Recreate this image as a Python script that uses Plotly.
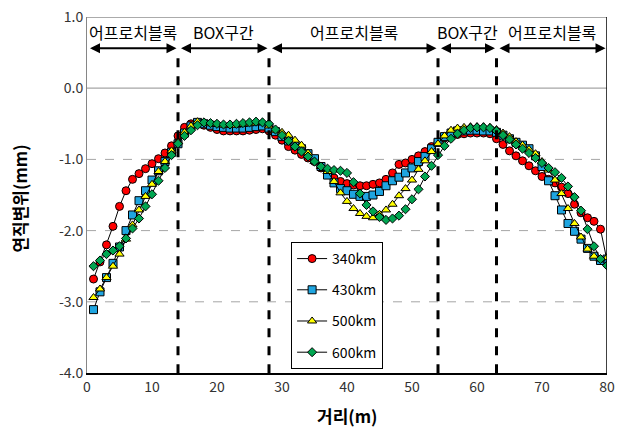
import plotly.graph_objects as go

distance = list(range(1, 81))

s340 = [-2.68, -2.44, -2.20, -1.94, -1.66, -1.44, -1.28, -1.20, -1.13, -1.06,
        -0.99, -0.91, -0.81, -0.67, -0.55, -0.50, -0.49, -0.52, -0.55, -0.58,
        -0.60, -0.60, -0.60, -0.60, -0.59, -0.58, -0.57, -0.60, -0.66, -0.73,
        -0.82, -0.87, -0.93, -0.98, -1.03, -1.12, -1.20, -1.26, -1.31, -1.34,
        -1.36, -1.37, -1.37, -1.35, -1.33, -1.28, -1.19, -1.07, -1.05, -1.00,
        -0.95, -0.89, -0.82, -0.76, -0.70, -0.67, -0.65, -0.64, -0.63, -0.63,
        -0.63, -0.64, -0.71, -0.79, -0.88, -0.95, -1.02, -1.09, -1.16, -1.24,
        -1.28, -1.33, -1.39, -1.48, -1.63, -1.75, -1.82, -1.87, -1.98, -2.42]

s430 = [-3.11, -2.86, -2.66, -2.46, -2.23, -2.00, -1.78, -1.58, -1.44, -1.29,
        -1.16, -1.03, -0.90, -0.78, -0.63, -0.53, -0.48, -0.50, -0.52, -0.54,
        -0.55, -0.56, -0.56, -0.56, -0.55, -0.54, -0.53, -0.56, -0.61, -0.68,
        -0.74, -0.80, -0.85, -0.92, -0.99, -1.10, -1.22, -1.33, -1.41, -1.44,
        -1.49, -1.52, -1.52, -1.50, -1.45, -1.37, -1.30, -1.25, -1.19, -1.12,
        -1.03, -0.96, -0.85, -0.76, -0.68, -0.63, -0.60, -0.60, -0.59, -0.59,
        -0.60, -0.60, -0.62, -0.66, -0.71, -0.76, -0.80, -0.85, -0.95, -1.10,
        -1.30, -1.51, -1.71, -1.90, -2.01, -2.12, -2.25, -2.36, -2.42, -2.40]

s500 = [-2.94, -2.82, -2.66, -2.50, -2.33, -2.12, -1.92, -1.71, -1.52, -1.35,
        -1.17, -1.03, -0.88, -0.75, -0.62, -0.53, -0.47, -0.48, -0.50, -0.51,
        -0.52, -0.52, -0.52, -0.51, -0.50, -0.49, -0.48, -0.53, -0.59, -0.62,
        -0.66, -0.73, -0.80, -0.91, -1.03, -1.10, -1.17, -1.31, -1.47, -1.59,
        -1.69, -1.76, -1.80, -1.82, -1.77, -1.71, -1.63, -1.51, -1.41, -1.29,
        -1.14, -1.02, -0.89, -0.78, -0.67, -0.59, -0.56, -0.55, -0.54, -0.54,
        -0.54, -0.55, -0.58, -0.63, -0.68, -0.75, -0.80, -0.86, -0.92, -1.03,
        -1.15, -1.29, -1.48, -1.69, -1.90, -2.09, -2.26, -2.36, -2.40, -2.38]

s600 = [-2.50, -2.42, -2.33, -2.28, -2.22, -2.11, -1.97, -1.83, -1.66, -1.49,
        -1.30, -1.12, -0.94, -0.78, -0.67, -0.59, -0.52, -0.48, -0.49, -0.50,
        -0.51, -0.51, -0.50, -0.49, -0.48, -0.47, -0.48, -0.50, -0.58, -0.66,
        -0.74, -0.82, -0.89, -0.96, -1.03, -1.10, -1.13, -1.15, -1.16, -1.19,
        -1.32, -1.48, -1.64, -1.73, -1.81, -1.85, -1.83, -1.79, -1.70, -1.56,
        -1.42, -1.24, -1.09, -0.94, -0.81, -0.71, -0.64, -0.59, -0.56, -0.55,
        -0.55, -0.56, -0.60, -0.66, -0.72, -0.79, -0.85, -0.91, -0.98, -1.05,
        -1.12, -1.18, -1.26, -1.38, -1.53, -1.72, -1.98, -2.22, -2.40, -2.49]

series_names = ["340km", "430km", "500km", "600km"]
series_values = [s340, s430, s500, s600]
marker_symbols = ["circle", "square", "triangle-up", "diamond"]
marker_colors = ["#ff0000", "#1fa5e0", "#ffff00", "#00a651"]
marker_sizes = [8, 8, 8, 7]

section_bounds = [0, 14, 28, 54, 63, 80]
section_labels = ["어프로치블록", "BOX구간", "어프로치블록", "BOX구간", "어프로치블록"]
divider_x = [14, 28, 54, 63]

y_ticks = [1, 0, -1, -2, -3, -4]
y_tick_labels = ["1.0", "0.0", "-1.0", "-2.0", "-3.0", "-4.0"]
x_ticks = [0, 10, 20, 30, 40, 50, 60, 70, 80]

FONT = "Noto Sans CJK KR"

fig = go.Figure()
for i, (name, vals) in enumerate(zip(series_names, series_values)):
    fig.add_trace(go.Scatter(
        x=distance, y=vals, name=name, mode="lines+markers",
        legendgroup=name,
        line=dict(color="black", width=1),
        marker=dict(symbol=marker_symbols[i], color=marker_colors[i],
                    size=marker_sizes[i], line=dict(color="black", width=1)),
    ))

shapes = []
for yv in [-1, -2, -3]:
    shapes.append(dict(type="line", xref="x", yref="y", x0=0, x1=80, y0=yv, y1=yv,
                       line=dict(color="#a6a6a6", width=1, dash="dash"), layer="below"))
shapes.append(dict(type="line", xref="x", yref="y", x0=0, x1=80, y0=0, y1=0,
                   line=dict(color="#a6a6a6", width=1.2), layer="below"))
shapes.append(dict(type="line", xref="x", yref="y", x0=0, x1=80, y0=1, y1=1,
                   line=dict(color="#595959", width=1)))
shapes.append(dict(type="line", xref="x", yref="y", x0=80, x1=80, y0=-4, y1=1,
                   line=dict(color="black", width=1.5)))
for xv in divider_x:
    shapes.append(dict(type="line", xref="x", yref="y", x0=xv, x1=xv, y0=0.42, y1=-4,
                       line=dict(color="black", width=3, dash="dash")))

annotations = []
for i, lab in enumerate(section_labels):
    a, b = section_bounds[i], section_bounds[i + 1]
    annotations.append(dict(x=(a + b) / 2, y=0.79, xref="x", yref="y", text=lab,
                            showarrow=False, font=dict(family=FONT, size=16, color="black")))
    annotations.append(dict(x=b, y=0.56, ax=a, ay=0.56, xref="x", yref="y",
                            axref="x", ayref="y", text="", showarrow=True,
                            arrowhead=2, startarrowhead=2, arrowside="end+start",
                            arrowsize=1, startarrowsize=1, arrowwidth=2, arrowcolor="black",
                            standoff=1.5, startstandoff=1.5))
annotations.append(dict(x=0.5, y=0, xref="paper", yref="paper", yshift=-42,
                        text="<b>거리(m)</b>", showarrow=False, yanchor="middle",
                        font=dict(family=FONT, size=17, color="black")))
annotations.append(dict(x=0, y=0.49, xref="paper", yref="paper", xshift=-67,
                        text="<b>연직변위(mm)</b>", showarrow=False, textangle=-90,
                        xanchor="center", font=dict(family=FONT, size=17, color="black")))

fig.update_layout(
    width=623, height=440,
    margin=dict(l=87, r=16, t=17, b=67),
    paper_bgcolor="white", plot_bgcolor="white",
    font=dict(family=FONT, size=14, color="#333333"),
    shapes=shapes, annotations=annotations,
    showlegend=True,
    legend=dict(x=0.3925, y=0.368, xanchor="left", yanchor="top",
                bordercolor="black", borderwidth=1, bgcolor="white",
                font=dict(family=FONT, size=14, color="black"),
                tracegroupgap=10, traceorder="grouped"),
    xaxis=dict(range=[0, 80], tickvals=x_ticks, showgrid=False, zeroline=False,
               showline=True, linecolor="black", linewidth=1.5, ticks="",
               automargin=False),
    yaxis=dict(range=[-4, 1], tickvals=y_ticks, ticktext=y_tick_labels, showgrid=False,
               zeroline=False, showline=True, linecolor="#868686", linewidth=1, ticks="",
               automargin=False),
)

fig.write_html("out.html", config={"displayModeBar": False},
               post_script="document.body.style.margin='0px';")
